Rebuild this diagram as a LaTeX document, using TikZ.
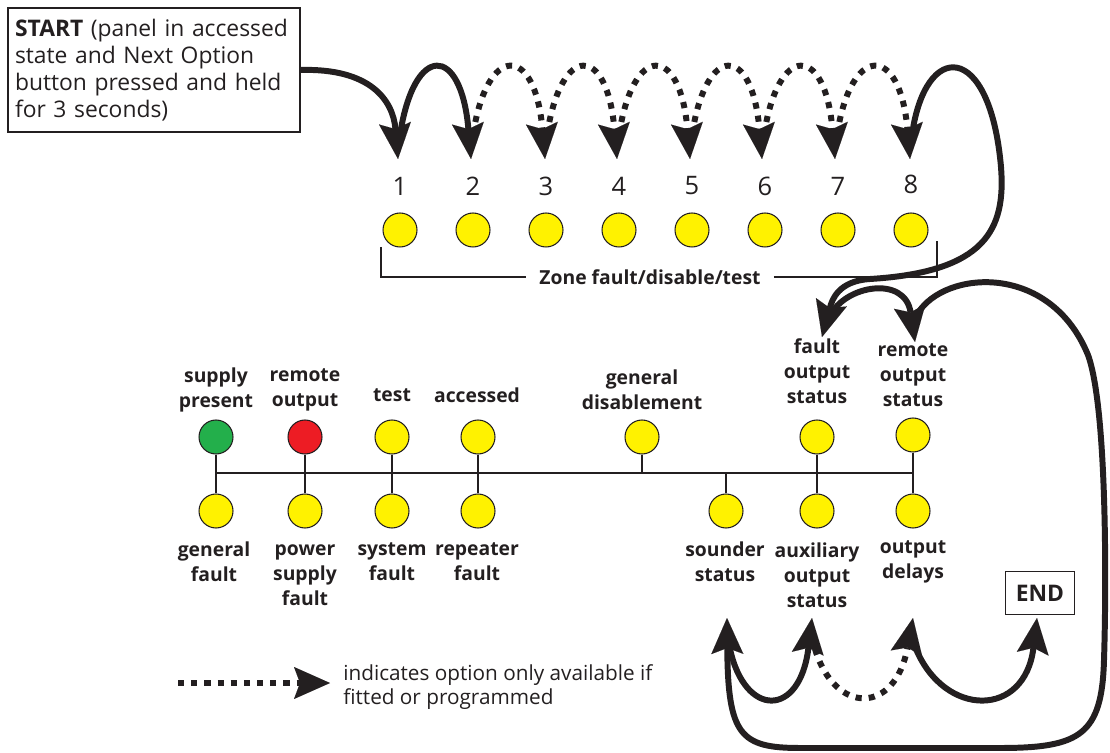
\documentclass[tikz,border=0pt]{standalone}
\usepackage{fontspec}
\setmainfont{Open Sans}
\usetikzlibrary{arrows.meta}

\definecolor{ink}{RGB}{35,31,32}
\definecolor{ledyellow}{RGB}{255,242,0}
\definecolor{ledgreen}{RGB}{35,175,75}
\definecolor{ledred}{RGB}{237,28,36}

\begin{document}
\begin{tikzpicture}[x=0.02cm, y=-0.02cm,
    led/.style={draw=ink, line width=0.6pt, circle, minimum size=0.68cm, inner sep=0pt, fill=ledyellow},
    lbl/.style={align=center, inner sep=0pt, text=ink, font=\fontsize{11}{14.2}\selectfont\bfseries},
    num/.style={inner sep=0pt, text=ink, font=\fontsize{14.5}{17}\selectfont},
    flow/.style={draw=ink, line width=3.4pt, -{Stealth[length=0.72cm, width=0.64cm, inset=0.12cm, line width=0.01pt]}},
    optflow/.style={flow, dash pattern=on 3.5pt off 4pt},
    stem/.style={draw=ink, line width=0.7pt}]
            \useasboundingbox (0,0) rectangle (1110,753);

            \node[draw=ink, line width=0.7pt, text=ink, align=left, minimum width=5.84cm, minimum height=2.48cm, text width=5.56cm, inner xsep=0.14cm, font=\fontsize{13}{15.3}\selectfont] (start) at (154,70) {\textbf{START} (panel in accessed\\state and Next Option\\button pressed and held\\for 3 seconds)};

            \node[num] (n1) at (400,186) {1};
            \node[num] (n2) at (473,186) {2};
            \node[num] (n3) at (546,186) {3};
            \node[num] (n4) at (619,186) {4};
            \node[num] (n5) at (692,186) {5};
            \node[num] (n6) at (765,186) {6};
            \node[num] (n7) at (838,186) {7};
            \node[num] (n8) at (911,184) {8};

            \node[led] (z1) at (400,230) {};
            \node[led] (z2) at (473,230) {};
            \node[led] (z3) at (546,230) {};
            \node[led] (z4) at (619,230) {};
            \node[led] (z5) at (692,230) {};
            \node[led] (z6) at (765,230) {};
            \node[led] (z7) at (838,230) {};
            \node[led] (z8) at (911,230) {};

            \node[lbl, inner xsep=0.26cm] (zone) at (650,277) {Zone fault/disable/test};
            \draw[stem] (381,247) |- (zone.west);
            \draw[stem] (zone.east) -| (937,241);

            \node[led, fill=ledgreen] (supply) at (216,437) {};
            \node[led, fill=ledred] (remote) at (305,437) {};
            \node[led] (test) at (392,437) {};
            \node[led] (accessed) at (478,437) {};
            \node[led] (disable) at (642,437) {};
            \node[led] (faultout) at (817,437) {};
            \node[led] (remoteout) at (913,435) {};
            \node[led] (genfault) at (216,511) {};
            \node[led] (psu) at (305,511) {};
            \node[led] (sysfault) at (392,511) {};
            \node[led] (repfault) at (478,511) {};
            \node[led] (sounder) at (726,511) {};
            \node[led] (auxout) at (817,511) {};
            \node[led] (delays) at (913,511) {};

            \coordinate (busL) at (216,473);
            \coordinate (busR) at (913,473);
            \draw[stem] (busL) -- (busR);
            \draw[stem] (supply) -- (genfault);
            \draw[stem] (remote) -- (psu);
            \draw[stem] (test) -- (sysfault);
            \draw[stem] (accessed) -- (repfault);
            \draw[stem] (faultout) -- (auxout);
            \draw[stem] (remoteout) -- (delays);
            \draw[stem] (disable) -- (disable |- busL);
            \draw[stem] (sounder) -- (sounder |- busL);

            \node[lbl] (supplylbl) at (216,390) {supply\\present};
            \node[lbl] (remotelbl) at (305,390) {remote\\output};
            \node[lbl] (testlbl) at (392,395) {test};
            \node[lbl] (accessedlbl) at (477,395) {accessed};
            \node[lbl] (disablelbl) at (642,390) {general\\disablement};
            \node[lbl] (faultoutlbl) at (817,371) {fault\\output\\status};
            \node[lbl] (remoteoutlbl) at (913,375) {remote\\output\\status};
            \node[lbl] (genfaultlbl) at (214,562) {general\\fault};
            \node[lbl] (psulbl) at (305,575) {power\\supply\\fault};
            \node[lbl] (sysfaultlbl) at (392,562) {system\\fault};
            \node[lbl] (repfaultlbl) at (477,562) {repeater\\fault};
            \node[lbl] (sounderlbl) at (725,562) {sounder\\status};
            \node[lbl] (auxoutlbl) at (817,575) {auxiliary\\output\\status};
            \node[lbl] (delayslbl) at (913,562) {output\\delays};

            \node[draw=ink, line width=0.7pt, minimum width=1.37cm, minimum height=0.85cm, text=ink, font=\fontsize{13}{15}\selectfont\bfseries] (endbox) at (1040,593) {END};

            \coordinate (t1) at (398,159);
            \coordinate (t2) at (471,159);
            \coordinate (t3) at (545,159);
            \coordinate (t4) at (617,159);
            \coordinate (t5) at (690,159);
            \coordinate (t6) at (762,159);
            \coordinate (t7) at (835,159);
            \coordinate (t8) at (910,159);
            \coordinate (s1) at (400,135);
            \coordinate (s2) at (473,135);
            \coordinate (s3) at (547,135);
            \coordinate (s4) at (619,135);
            \coordinate (s5) at (692,135);
            \coordinate (s6) at (764,135);
            \coordinate (s7) at (837,135);
            \coordinate (s8) at (912,135);
            \coordinate (tf) at (822,337);
            \coordinate (sf) at (830,316);
            \coordinate (tr) at (915,342);
            \coordinate (sr) at (918,313);
            \coordinate (ts) at (727,618);
            \coordinate (ss) at (730,649);
            \coordinate (ta) at (812,618);
            \coordinate (sa) at (815,649);
            \coordinate (td) at (913,618);
            \coordinate (sd) at (916,649);
            \coordinate (te) at (1037,618);

            \draw[flow] (start.east) .. controls (370,68) and (393,100) .. (t1);
            \draw[flow] (s1) .. controls +(14,-92) and +(-10,-115) .. (t2);
            \draw[optflow] (s2) .. controls +(14,-92) and +(-10,-115) .. (t3);
            \draw[optflow] (s3) .. controls +(14,-92) and +(-10,-115) .. (t4);
            \draw[optflow] (s4) .. controls +(14,-92) and +(-10,-115) .. (t5);
            \draw[optflow] (s5) .. controls +(14,-92) and +(-10,-115) .. (t6);
            \draw[optflow] (s6) .. controls +(14,-92) and +(-10,-115) .. (t7);
            \draw[optflow] (s7) .. controls +(14,-92) and +(-10,-115) .. (t8);
            \draw[flow] (s8) .. controls (925,40) and (990,40) .. (1001,167) .. controls (1006,230) and (985,272) .. (870,279) .. controls (838,281) and (832,300) .. (tf);
            \draw[flow] (sf) .. controls (845,285) and (905,275) .. (tr);
            \draw[flow] (sr) .. controls (945,270) and (1050,262) .. (1088,355) .. controls (1108,410) and (1106,600) .. (1104,660) .. controls (1102,735) and (1080,748) .. (1000,748) -- (800,748) .. controls (740,748) and (728,735) .. (ts);
            \draw[flow] (ss) .. controls (745,718) and (800,718) .. (ta);
            \draw[optflow] (sa) .. controls (835,715) and (895,715) .. (td);
            \draw[flow] (sd) .. controls (945,718) and (1025,718) .. (te);

            \coordinate (lg0) at (178,683);
            \coordinate (lg1) at (330,683);
            \draw[optflow] (lg0) -- (lg1);
            \node[anchor=west, align=left, inner sep=0pt, text=ink, font=\fontsize{11.8}{13.6}\selectfont] (legend) at (343,687) {indicates option only available if\\fitted or programmed};
        \end{tikzpicture}
\end{document}
